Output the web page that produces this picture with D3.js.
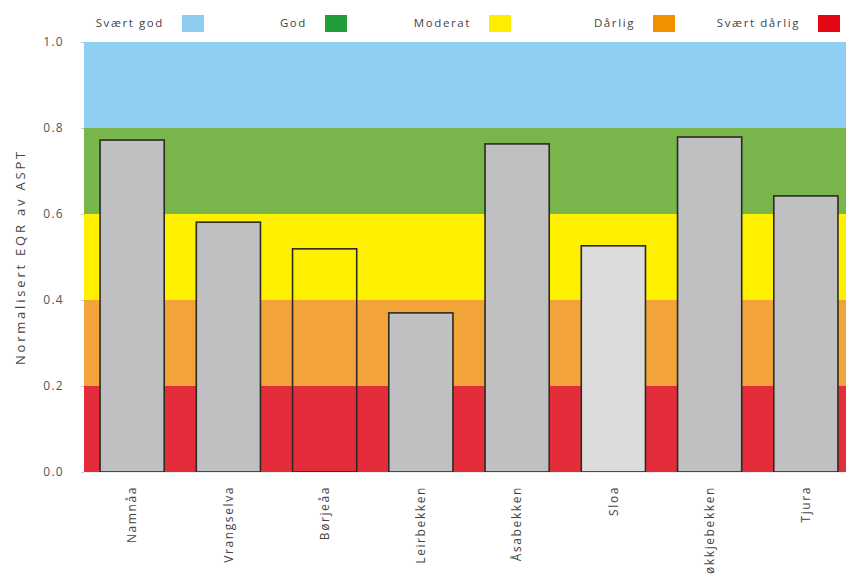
<!DOCTYPE html>
<html><head><meta charset="utf-8">
<script src="https://cdn.jsdelivr.net/npm/d3@7"></script>
<style>body{margin:0;background:#fff}svg{display:block}text{font-family:"Open Sans","Noto Sans",sans-serif}</style>
</head><body><div id="chart"></div>
<script>
const categories = ["Namnåa","Vrangselva","Børjeåa","Leirbekken","Åsabekken","Sloa","Søkkjebekken","Tjura"];
const values = [0.772, 0.581, 0.519, 0.370, 0.763, 0.526, 0.779, 0.642];
const barFills = ["#c0c0c2","#c0c0c2","none","#c0c0c2","#c0c0c2","#dcdcdc","#c0c0c2","#c0c0c2"];
const classNames = ["Svært god","God","Moderat","Dårlig","Svært dårlig"];
const classLower = [0.8, 0.6, 0.4, 0.2, 0.0];
const classUpper = [1.0, 0.8, 0.6, 0.4, 0.2];
const bandColors = ["#8fd0f2","#78b54b","#fff000","#f2a33a","#e52c3a"];
const legendColors = ["#8fcdf0","#1f9e3a","#ffed00","#f39200","#e30613"];
const yTicks = [0.0, 0.2, 0.4, 0.6, 0.8, 1.0];

const W = 846, H = 575;
const svg = d3.select("#chart").append("svg").attr("width", W).attr("height", H);
const x = d3.scaleBand().domain(categories).range([84, 854]).paddingInner(1/3).paddingOuter(1/6);
const y = d3.scaleLinear().domain([0, 1]).range([472, 42]);

// quality class bands
svg.append("g").selectAll("rect").data(classNames).join("rect")
  .attr("x", 84).attr("width", 854 - 84)
  .attr("y", (d, i) => y(classUpper[i]))
  .attr("height", (d, i) => y(classLower[i]) - y(classUpper[i]))
  .attr("fill", (d, i) => bandColors[i]);

// bars
svg.append("g").selectAll("rect").data(categories).join("rect")
  .attr("x", d => x(d)).attr("width", x.bandwidth())
  .attr("y", (d, i) => y(values[i]))
  .attr("height", (d, i) => y(0) - y(values[i]))
  .attr("fill", (d, i) => barFills[i])
  .attr("stroke", "#2b2b22").attr("stroke-width", 1.6);

// y axis
const ya = svg.append("g").attr("transform", "translate(84,0)")
  .call(d3.axisLeft(y).tickValues(yTicks).tickFormat(d3.format(".1f")).tickSize(3).tickPadding(17));
ya.select(".domain").remove();
ya.selectAll(".tick line").attr("stroke", "#ccc");
ya.selectAll(".tick text").attr("font-size", 12).attr("letter-spacing", 1.3).attr("fill", "#555");

// x axis
const xa = svg.append("g").attr("transform", "translate(0,472)")
  .call(d3.axisBottom(x).tickSize(0).tickPadding(0));
xa.select(".domain").attr("stroke", "#eee");
xa.selectAll(".tick text")
  .attr("font-size", 12).attr("letter-spacing", 1.6).attr("fill", "#444")
  .attr("transform", "rotate(-90)")
  .attr("text-anchor", "end").attr("x", -14).attr("y", 0).attr("dy", "0.35em");

// y label
svg.append("text").attr("transform", "translate(25,257) rotate(-90)")
  .attr("text-anchor", "middle").attr("font-size", 13).attr("letter-spacing", 2.8).attr("fill", "#444")
  .text("Normalisert EQR av ASPT");

// legend
const swatchX = [182, 325, 489, 653, 818];
const lg = svg.append("g").selectAll("g").data(classNames).join("g")
  .attr("transform", (d, i) => `translate(${swatchX[i]},0)`);
lg.append("rect").attr("x", 0).attr("y", 15).attr("width", 22).attr("height", 17)
  .attr("fill", (d, i) => legendColors[i]);
lg.append("text").attr("x", -18).attr("y", 27).attr("text-anchor", "end")
  .attr("font-size", 11.5).attr("letter-spacing", 1.6).attr("fill", "#444").text(d => d);
</script></body></html>
